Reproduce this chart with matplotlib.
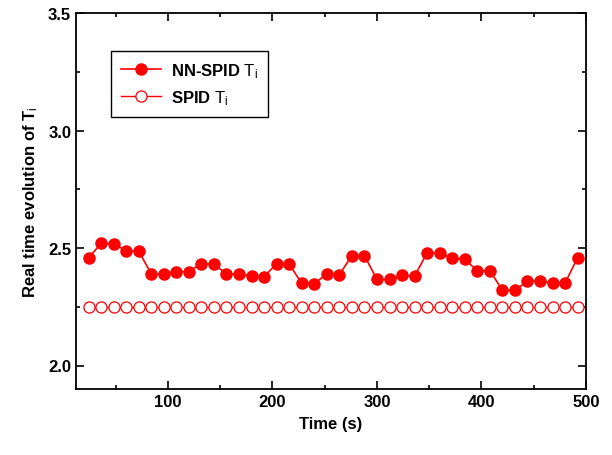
import numpy as np
import matplotlib
matplotlib.use('Agg')
import matplotlib.pyplot as plt
from matplotlib.ticker import MultipleLocator

plt.rcParams['font.family'] = ['Liberation Sans', 'DejaVu Sans']
plt.rcParams['font.weight'] = 'bold'
plt.rcParams['mathtext.fontset'] = 'custom'
plt.rcParams['mathtext.rm'] = 'Liberation Sans:normal'
plt.rcParams['mathtext.bf'] = 'Liberation Sans:bold'
plt.rcParams['mathtext.it'] = 'Liberation Sans:italic'

# time (s), one sample every 12 s
time = [24, 36, 48, 60, 72, 84, 96, 108, 120, 132,
        144, 156, 168, 180, 192, 204, 216, 228, 240, 252,
        264, 276, 288, 300, 312, 324, 336, 348, 360, 372,
        384, 396, 408, 420, 432, 444, 456, 468, 480, 492]

nn_spid = [2.456, 2.521, 2.518, 2.489, 2.487, 2.390, 2.389, 2.399, 2.400, 2.434,
           2.431, 2.390, 2.389, 2.381, 2.378, 2.433, 2.431, 2.350, 2.348, 2.390,
           2.386, 2.468, 2.468, 2.366, 2.366, 2.383, 2.381, 2.479, 2.479, 2.456,
           2.452, 2.403, 2.404, 2.320, 2.320, 2.359, 2.359, 2.352, 2.351, 2.459]

spid = [2.25] * 40

red = '#FF0000'

fig = plt.figure(figsize=(6.12, 4.56), dpi=100)
ax = fig.add_axes([76/612, 1-390/456, 510/612, 376/456])

ax.plot(time, nn_spid, '-o', color=red, lw=1.2, ms=8, mfc=red, mec=red,
        label=r'NN-SPID $\mathrm{T_i}$')
ax.plot(time, spid, '-o', color=red, lw=1.0, ms=8, mfc='white', mec=red, mew=0.9,
        label=r'SPID $\mathrm{T_i}$')

ax.set_xlim(12, 500)
ax.set_ylim(1.9, 3.5)
ax.xaxis.set_major_locator(MultipleLocator(100))
ax.xaxis.set_minor_locator(MultipleLocator(50))
ax.yaxis.set_major_locator(MultipleLocator(0.5))
ax.yaxis.set_minor_locator(MultipleLocator(0.25))

ax.tick_params(which='both', direction='in', top=True, right=True, width=1.2,
               labelsize=12)
ax.tick_params(which='major', length=5.5)
ax.tick_params(which='minor', length=2.8)
for s in ax.spines.values():
    s.set_linewidth(1.3)

ax.set_xlabel('Time (s)', fontsize=12, fontweight='bold', labelpad=5)
ax.set_ylabel(r'Real time evolution of $\mathbf{T}_\mathrm{i}$', fontsize=12,
              fontweight='bold', labelpad=6)

leg = ax.legend(loc='upper left', bbox_to_anchor=(35/510, 338/376), borderaxespad=0,
                fancybox=False, edgecolor='black', framealpha=1,
                prop={'weight': 'bold', 'size': 12}, handlelength=2.4,
                borderpad=0.6, labelspacing=0.5, handletextpad=0.6)
leg.get_frame().set_linewidth(1.0)

fig.savefig('out.png', dpi=100)
